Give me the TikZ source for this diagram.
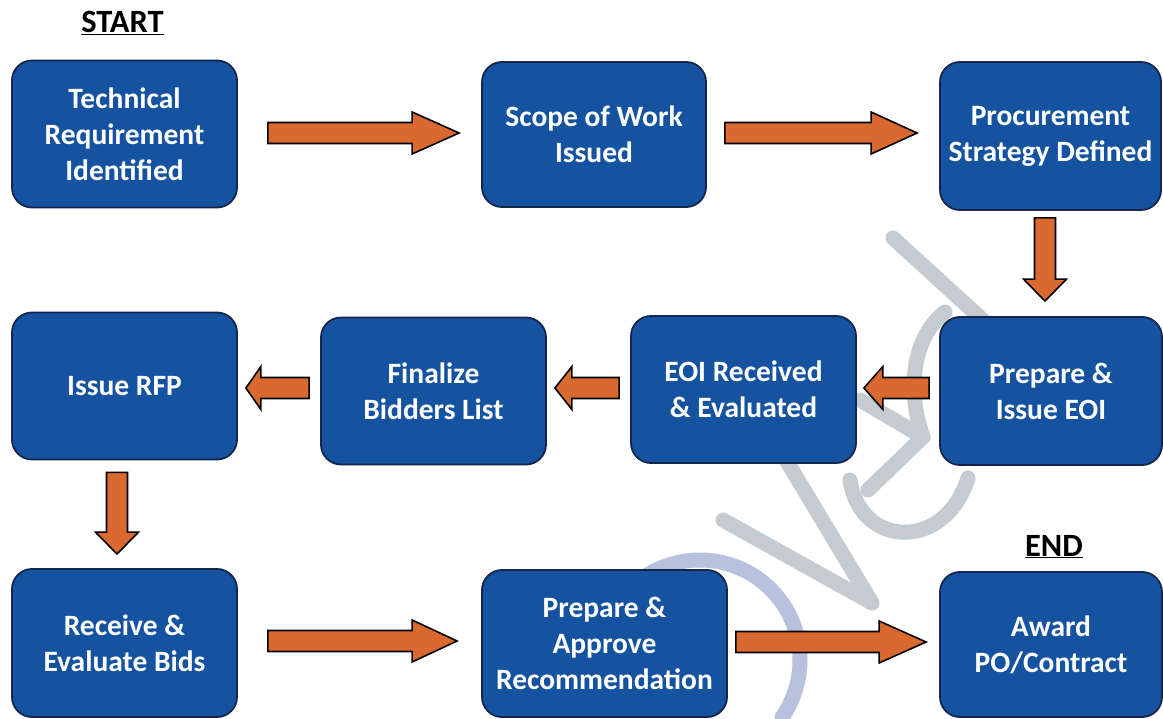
\documentclass[tikz,border=0pt]{standalone}
\usepackage{fontspec}
\setmainfont{Carlito}
\usetikzlibrary{calc}
\definecolor{boxblue}{RGB}{21,83,160}
\definecolor{boxedge}{RGB}{20,38,76}
\definecolor{arrowor}{RGB}{218,105,48}
\definecolor{wmgray}{RGB}{196,203,209}
\definecolor{wmblue}{RGB}{184,193,222}
\begin{document}
\begin{tikzpicture}[x=1pt,y=-1pt]
\tikzset{
  box/.style={draw=boxedge, line width=1.8pt, fill=boxblue, rounded corners=20pt,
    text=white, font=\fontsize{29.5}{36}\selectfont\bfseries, align=center,
    minimum width=225pt, minimum height=147pt, inner sep=0pt},
  lbl/.style={font=\fontsize{32.5}{36}\selectfont\bfseries, text=black, inner sep=0pt, anchor=base},
  headlen/.store in=\ahl, headlen=47pt,
  headw/.store in=\ahw, headw=21pt,
  shaftw/.store in=\asw, shaftw=10.5pt,
  blockarrow/.style={draw=black, line width=1.6pt, fill=arrowor, line join=miter,
    to path={($(\tikztostart)!\asw!90:(\tikztotarget)$)
      -- ($(\tikztotarget)!\ahl!(\tikztostart)!\asw!90:(\tikztotarget)$)
      -- ($(\tikztotarget)!\ahl!(\tikztostart)!\ahw!90:(\tikztotarget)$)
      -- (\tikztotarget)
      -- ($(\tikztotarget)!\ahl!(\tikztostart)!\ahw!-90:(\tikztotarget)$)
      -- ($(\tikztotarget)!\ahl!(\tikztostart)!\asw!-90:(\tikztotarget)$)
      -- ($(\tikztostart)!\asw!-90:(\tikztotarget)$) -- cycle}},
  wm/.style={line width=15pt, draw=wmgray, line cap=round, line join=round},
  wmb/.style={line width=15pt, draw=wmblue, line cap=round}
}
\useasboundingbox (0,0) rectangle (1163,719);
\fill[white] (0,0) rectangle (1163,719);

% watermark
\draw[wm] (893,238) -- (985,322);
\draw[wm] (945,312) .. controls (915,335) and (905,385) .. (923,437);
\draw[wm] (860,400) -- (923,437) -- (868,490);
\draw[wm] (850,480) .. controls (860,548) and (945,552) .. (968,478);
\draw[wm] (723,520) -- (872,603) -- (780,450);
\draw[wmb] (700,660) ++(-125:100) arc[start angle=-125, end angle=35, radius=100];

% boxes
\node[box] (A) at (124.5,134) {Technical\\Requirement\\Identified};
\node[box, minimum width=224pt, minimum height=145pt] (B) at (594,134.5) {Scope of Work\\Issued};
\node[box, minimum width=221pt, minimum height=148pt] (C) at (1050.5,136) {Procurement\\Strategy Defined};
\node[box, minimum width=222pt, minimum height=148pt] (D) at (1051,391) {Prepare \&\\Issue EOI};
\node[box] (E) at (743.5,389.5) {EOI Received\\\& Evaluated};
\node[box] (F) at (433.5,391) {Finalize\\Bidders List};
\node[box] (G) at (124.5,386) {Issue RFP};
\node[box, minimum height=148pt] (H) at (124.5,643) {Receive \&\\Evaluate Bids};
\node[box, minimum width=245pt] (I) at (604.5,643.5) {Prepare \&\\Approve\\Recommendation};
\node[box, minimum width=222pt, minimum height=145pt] (J) at (1051,644.5) {Award\\PO/Contract};

\node[lbl] (start) at (122.5,33) {\underline{START}};
\node[lbl] (end) at (1054,556) {\underline{END}};

% connector end points
\coordinate (ab1) at ($(A.east)+(30,-1)$);
\coordinate (ab2) at ($(B.west |- ab1)+(-22,0)$);
\coordinate (bc1) at ($(B.east)+(18,-1.5)$);
\coordinate (bc2) at ($(C.west |- bc1)+(-22,0)$);
\coordinate (cd1) at ($(C.south)+(-5.5,7)$);
\coordinate (cd2) at ($(cd1 |- D.north)+(0,-15)$);
\coordinate (de1) at ($(D.west)+(-10,-3)$);
\coordinate (de2) at ($(E.east |- de1)+(7,0)$);
\coordinate (ef1) at ($(E.west)+(-11,-1.5)$);
\coordinate (ef2) at ($(F.east |- ef1)+(8,0)$);
\coordinate (fg1) at ($(F.west)+(-11,-3)$);
\coordinate (fg2) at ($(G.east |- fg1)+(8,0)$);
\coordinate (gh1) at ($(G.south)+(-7.5,12)$);
\coordinate (gh2) at ($(gh1 |- H.north)+(0,-14)$);
\coordinate (hi1) at ($(H.east)+(30,-2)$);
\coordinate (hi2) at ($(I.west |- hi1)+(-24,0)$);
\coordinate (ij1) at ($(I.east)+(8,-1.5)$);
\coordinate (ij2) at ($(J.west |- ij1)+(-13,0)$);

% arrows
\draw[blockarrow] (ab1) to (ab2);
\draw[blockarrow, headlen=46pt] (bc1) to (bc2);
\draw[blockarrow, headlen=22pt, headw=21.5pt] (cd1) to (cd2);
\draw[blockarrow, headlen=19pt, headw=21.5pt] (de1) to (de2);
\draw[blockarrow, headlen=17pt, headw=21.5pt] (ef1) to (ef2);
\draw[blockarrow, headlen=15pt, headw=21.5pt] (fg1) to (fg2);
\draw[blockarrow, headlen=22pt, headw=21.5pt] (gh1) to (gh2);
\draw[blockarrow, headlen=45pt] (hi1) to (hi2);
\draw[blockarrow, headlen=47pt] (ij1) to (ij2);
\end{tikzpicture}
\end{document}
